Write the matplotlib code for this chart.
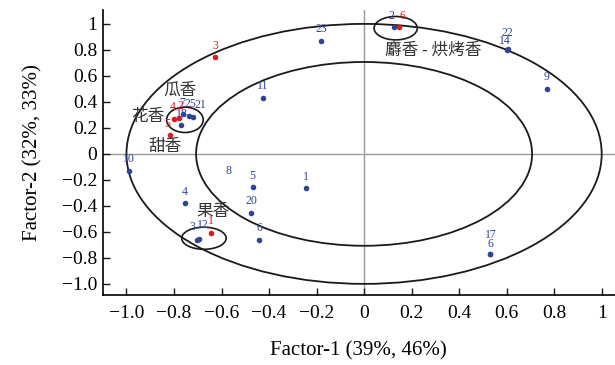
import numpy as np
import matplotlib
matplotlib.use("Agg")
import matplotlib.pyplot as plt
from matplotlib.patches import Ellipse

# Loadings
blue_ids = ["23", "2", "22", "14", "9", "11", "7", "25", "21", "18", "10", "8",
            "5", "1", "4", "20", "3", "12", "6", "17", "6"]
blue_x = [-0.180, 0.126, 0.604, 0.600, 0.769, -0.427, -0.761, -0.738, -0.718, -0.772,
          -0.989, -0.571, -0.469, -0.244, -0.755, -0.476, -0.705, -0.696, -0.442, 0.528, 0.528]
blue_y = [0.869, 0.974, 0.810, 0.800, 0.500, 0.431, 0.305, 0.295, 0.287, 0.226,
          -0.128, -0.220, -0.256, -0.264, -0.379, -0.451, -0.662, -0.654, -0.662, -0.769, -0.769]
blue_hidden = ["8"]  # label drawn without a visible dot

red_ids = ["1", "2", "3", "4", "5", "6"]
red_x = [-0.644, -0.780, -0.627, -0.800, -0.818, 0.149]
red_y = [-0.605, 0.279, 0.744, 0.269, 0.144, 0.974]

# correlation circles (50% and 100% explained variance)
circle_r = [1.0, 0.707]

# group outlines: centre x, centre y, width, height
group_x = [0.133, -0.754, -0.674]
group_y = [0.967, 0.262, -0.649]
group_w = [0.182, 0.154, 0.187]
group_h = [0.180, 0.195, 0.170]

group_names = ["麝香 - 烘烤香", "瓜香", "花香", "甜香", "果香"]
name_x = [0.29, -0.775, -0.91, -0.84, -0.635]
name_y = [0.80, 0.49, 0.29, 0.055, -0.44]

ticks = [-1.0, -0.8, -0.6, -0.4, -0.2, 0, 0.2, 0.4, 0.6, 0.8, 1]
xtick_labels = ["−1.0", "−0.8", "−0.6", "−0.4", "−0.2", "0", "0.2", "0.4", "0.6", "0.8", "1"]
ytick_labels = ["−1.0", "−0.8", "−0.6", "−0.4", "−0.2", "0", "0.2", "0.4", "0.6", "0.8", "1"]

blue = "#2c4499"
red = "#e3171e"
serif = "Liberation Serif"
cjk = ["Noto Sans CJK SC", "DejaVu Sans"]

fig = plt.figure(figsize=(6.15, 3.65), dpi=100)
ax = fig.add_axes([0.167, 0.192, 0.833, 0.781])

ax.axhline(0, color="#9a9a9a", lw=1.0, zorder=1)
ax.axvline(0, color="#9a9a9a", lw=1.0, zorder=1)

for r in circle_r:
    ax.add_patch(Ellipse((0, 0), 2 * r, 2 * r, fill=False, ec="#1a1a1a", lw=1.3, zorder=2))
for gx, gy, gw, gh in zip(group_x, group_y, group_w, group_h):
    ax.add_patch(Ellipse((gx, gy), gw, gh, fill=False, ec="#1a1a1a", lw=1.2, zorder=2))

# label offsets in points for crowded spots
offsets = {("b", 1): (-2, 4), ("b", 6): (-1, 4), ("b", 7): (1, 4), ("b", 8): (5, 4),
           ("b", 9): (1, 3), ("b", 2): (0, 7), ("b", 3): (-1, 2), ("b", 16): (-3, 5),
           ("b", 17): (3, 6), ("b", 19): (1, 9), ("b", 20): (1, 3), ("r", 1): (1, 4),
           ("r", 3): (-1, 4), ("r", 4): (-2, 4), ("r", 5): (2, 4)}

for i, (lab, x, y) in enumerate(zip(blue_ids, blue_x, blue_y)):
    if lab not in blue_hidden:
        ax.scatter(x, y, s=16, color=blue, zorder=4, linewidths=0)
    dx, dy = offsets.get(("b", i), (0, 4))
    ax.annotate(lab, (x, y), xytext=(dx, dy), textcoords="offset points",
                ha="center", va="bottom", fontsize=8.5, color=blue, family=serif, zorder=5)

for i, (lab, x, y) in enumerate(zip(red_ids, red_x, red_y)):
    ax.scatter(x, y, s=16, color=red, zorder=4, linewidths=0)
    dx, dy = offsets.get(("r", i), (0, 4))
    ax.annotate(lab, (x, y), xytext=(dx, dy), textcoords="offset points",
                ha="center", va="bottom", fontsize=8.5, color=red, family=serif, zorder=5)

for name, x, y in zip(group_names, name_x, name_y):
    ax.text(x, y, name, ha="center", va="center", fontsize=12, color="#333333",
            family=cjk, zorder=6)

ax.set_xlim(-1.10, 1.056)
ax.set_ylim(-1.085, 1.108)
ax.set_xticks(ticks)
ax.set_xticklabels(xtick_labels, family=serif, fontsize=14)
ax.set_yticks(ticks)
ax.set_yticklabels(ytick_labels, family=serif, fontsize=14)
ax.tick_params(direction="in", length=5, width=1, color="#1a1a1a")
ax.tick_params(axis="x", pad=7)
ax.tick_params(axis="y", pad=4)

ax.spines["top"].set_visible(False)
ax.spines["right"].set_visible(False)
ax.spines["left"].set_linewidth(1.2)
ax.spines["bottom"].set_linewidth(1.2)

ax.set_xlabel("Factor-1 (39%, 46%)", family=serif, fontsize=15, labelpad=14)
ax.set_ylabel("Factor-2 (32%, 33%)", family=serif, fontsize=15, labelpad=14)

fig.savefig("out.png", dpi=100)
